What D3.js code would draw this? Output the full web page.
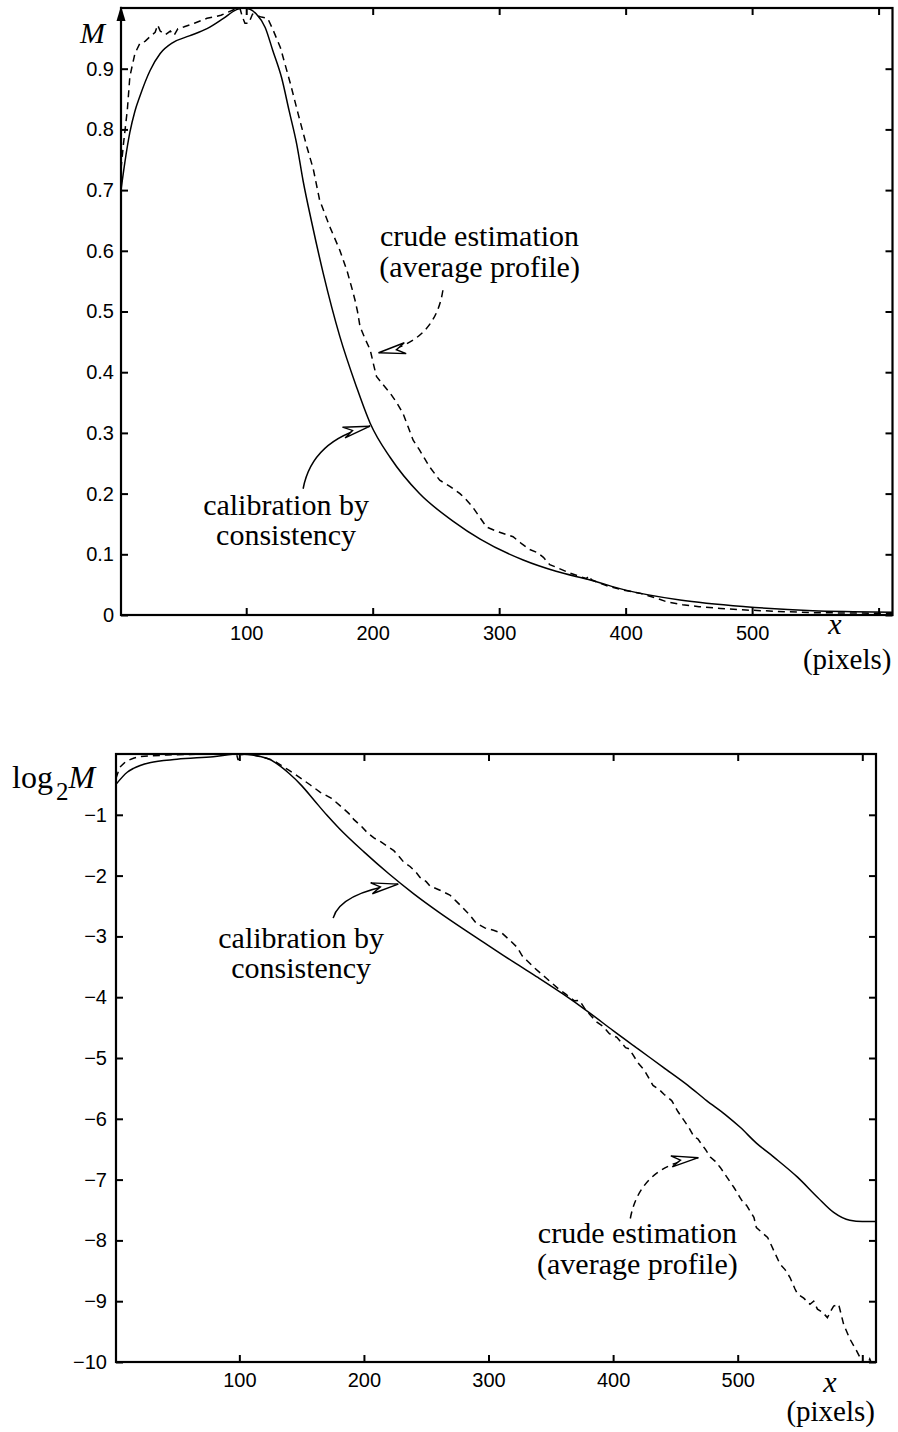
<!DOCTYPE html>
<html><head><meta charset="utf-8">
<script src="https://cdn.jsdelivr.net/npm/d3@7"></script>
<style>
html,body{margin:0;padding:0;background:#fff;}
svg{display:block;}
</style></head><body>
<svg id="c" width="898" height="1432"></svg>
<script>
// ---------------- data ----------------
const xTicks = [100, 200, 300, 400, 500, 600];
const xTickLabels = ["100", "200", "300", "400", "500", ""];

const topYTicks = [0, 0.1, 0.2, 0.3, 0.4, 0.5, 0.6, 0.7, 0.8, 0.9];
const topYTickLabels = ["0", "0.1", "0.2", "0.3", "0.4", "0.5", "0.6", "0.7", "0.8", "0.9"];

const botYTicks = [-10, -9, -8, -7, -6, -5, -4, -3, -2, -1];
const botYTickLabels = ["\u221210", "\u22129", "\u22128", "\u22127", "\u22126", "\u22125", "\u22124", "\u22123", "\u22122", "\u22121"];

// top panel: M, calibration by consistency (solid)
const topSolidX = [1, 4, 8, 12, 16, 24, 32, 42, 55, 69, 82, 92, 97, 103, 108, 115, 121, 128, 134, 140, 145, 152, 161, 174, 187, 198, 214, 237, 264, 285, 319, 345, 372, 400, 443, 495, 548, 580, 611];
const topSolidM = [0.70, 0.745, 0.795, 0.83, 0.855, 0.897, 0.925, 0.943, 0.954, 0.966, 0.983, 0.997, 1.0, 0.998, 0.99, 0.968, 0.93, 0.885, 0.83, 0.775, 0.715, 0.645, 0.562, 0.459, 0.377, 0.316, 0.259, 0.200, 0.154, 0.125, 0.0906, 0.072, 0.0577, 0.041, 0.0247, 0.0137, 0.0071, 0.0055, 0.0044];

// top panel: M, crude estimation (dashed)
const topDashX = [1, 3, 6, 8, 12, 16, 20, 24, 28, 30, 32, 36, 40, 43, 46, 51, 59, 69, 80, 90, 95, 97, 99, 102, 105, 108, 112, 117, 121, 127, 135, 141, 148, 153, 158, 166, 174, 180, 184, 186, 188, 190, 194, 198, 201, 203, 208, 214, 219, 224, 228, 232, 237, 241, 245, 253, 261, 269, 274, 279, 285, 290, 298, 305, 311, 318, 324, 330, 335, 340, 347, 356, 363, 369, 371, 373, 380, 387, 396, 406, 411, 416, 424, 432, 445, 458, 475, 495, 520, 548, 580, 611];
const topDashM = [0.735, 0.777, 0.832, 0.887, 0.925, 0.942, 0.945, 0.953, 0.960, 0.972, 0.962, 0.956, 0.962, 0.955, 0.966, 0.969, 0.975, 0.983, 0.988, 0.997, 1.0, 0.985, 0.975, 0.975, 0.990, 0.988, 0.985, 0.983, 0.965, 0.935, 0.875, 0.826, 0.771, 0.735, 0.684, 0.640, 0.601, 0.565, 0.535, 0.519, 0.500, 0.475, 0.455, 0.437, 0.410, 0.393, 0.380, 0.365, 0.350, 0.332, 0.310, 0.288, 0.272, 0.258, 0.244, 0.222, 0.212, 0.200, 0.190, 0.178, 0.160, 0.145, 0.138, 0.133, 0.129, 0.117, 0.108, 0.103, 0.095, 0.083, 0.077, 0.069, 0.064, 0.060, 0.065, 0.058, 0.052, 0.047, 0.042, 0.038, 0.036, 0.033, 0.028, 0.022, 0.017, 0.0137, 0.0108, 0.0082, 0.0060, 0.0038, 0.0032, 0.0028];

// bottom panel: log2 M, calibration by consistency (solid)
const botSolidX = [1, 10, 15, 28, 50, 79, 100, 122, 140, 150, 160, 170, 180, 200, 220, 240, 260, 280, 300, 320, 340, 360, 380, 400, 420, 440, 460, 475, 490, 502, 515, 529, 548, 564, 577, 590, 600, 611];
const botSolidL = [-0.50, -0.30, -0.236, -0.143, -0.087, -0.044, 0.0, -0.07, -0.32, -0.52, -0.76, -1.0, -1.22, -1.61, -1.97, -2.30, -2.60, -2.88, -3.15, -3.42, -3.68, -3.95, -4.24, -4.55, -4.85, -5.15, -5.45, -5.70, -5.93, -6.14, -6.40, -6.63, -6.96, -7.29, -7.54, -7.67, -7.69, -7.69];

// bottom panel: log2 M, crude estimation (dashed)
const botDashX = [1, 4, 9, 15, 20, 30, 42, 55, 68, 80, 95, 98, 99, 100, 105, 111, 120, 127, 133, 140, 148, 157, 165, 174, 182, 188, 192, 198, 203, 208, 214, 219, 224, 228, 232, 237, 242, 245, 250, 253, 261, 269, 274, 279, 285, 290, 297, 304, 311, 318, 323, 327, 331, 337, 346, 356, 362, 369, 373, 377, 382, 387, 392, 397, 403, 406, 410, 413, 416, 420, 425, 432, 437, 441, 447, 452, 457, 461, 465, 468, 470, 474, 478, 482, 486, 492, 497, 502, 505, 507, 510, 513, 515, 520, 524, 527, 529, 534, 538, 542, 546, 548, 553, 558, 561, 564, 568, 572, 575, 577, 581, 585, 590, 595, 600, 604, 606, 608, 611];
const botDashL = [-0.40, -0.22, -0.12, -0.07, -0.044, -0.03, -0.016, -0.01, 0, 0, 0, -0.02, -0.1, -0.02, 0, -0.016, -0.06, -0.1, -0.18, -0.27, -0.38, -0.51, -0.63, -0.73, -0.87, -0.98, -1.08, -1.19, -1.30, -1.38, -1.45, -1.52, -1.59, -1.68, -1.78, -1.85, -1.95, -2.03, -2.10, -2.17, -2.24, -2.32, -2.42, -2.52, -2.65, -2.78, -2.86, -2.90, -2.95, -3.08, -3.18, -3.32, -3.40, -3.52, -3.68, -3.86, -3.95, -4.06, -4.05, -4.18, -4.30, -4.41, -4.48, -4.60, -4.66, -4.73, -4.83, -4.85, -4.95, -5.08, -5.20, -5.45, -5.52, -5.60, -5.70, -5.88, -6.03, -6.15, -6.30, -6.33, -6.39, -6.50, -6.63, -6.70, -6.80, -6.98, -7.13, -7.30, -7.40, -7.42, -7.52, -7.62, -7.79, -7.88, -7.95, -8.08, -8.17, -8.39, -8.48, -8.61, -8.80, -8.88, -8.95, -9.05, -9.00, -9.13, -9.18, -9.27, -9.15, -9.08, -9.05, -9.38, -9.62, -9.80, -10.0, -10.05, -9.95, -10.05, -10.05];

// annotation texts
const calibLines = ["calibration by", "consistency"];
const crudeLines = ["crude estimation", "(average profile)"];

// ---------------- drawing ----------------
const svg = d3.select("#c");
const SERIF = "'Liberation Serif','Times New Roman',Times,serif";
const SANS = "'Liberation Sans',Arial,Helvetica,sans-serif";

function panel(cfg) {
  const x = d3.scaleLinear().domain([1, 611]).range([cfg.left, cfg.right]);
  const y = d3.scaleLinear().domain(cfg.yDomain).range([cfg.bottom, cfg.top]);
  const g = svg.append("g");
  const clipId = "clip" + cfg.id;
  svg.append("clipPath").attr("id", clipId).append("rect")
    .attr("x", cfg.left).attr("y", cfg.top - 1)
    .attr("width", cfg.right - cfg.left).attr("height", cfg.bottom - cfg.top + 1);

  const line = d3.line().x(d => x(d[0])).y(d => y(d[1]));
  const solid = cfg.solidX.map((v, i) => [v, cfg.solidY[i]]);
  const dash = cfg.dashX.map((v, i) => [v, cfg.dashY[i]]);
  const cg = g.append("g").attr("clip-path", `url(#${clipId})`);
  cg.append("path").datum(dash)
    .attr("d", line.curve(d3.curveLinear))
    .attr("fill", "none").attr("stroke", "#000").attr("stroke-width", 1.5)
    .attr("stroke-dasharray", "7,5");
  cg.append("path").datum(solid)
    .attr("d", line.curve(d3.curveMonotoneX))
    .attr("fill", "none").attr("stroke", "#000").attr("stroke-width", 1.5);

  const tk = 7;
  const ax = g.append("g");
  ax.append("g").attr("transform", `translate(0,${cfg.bottom})`)
    .call(d3.axisBottom(x).tickValues(xTicks).tickSize(-tk).tickPadding(cfg.xPad)
      .tickFormat((d, i) => xTickLabels[i]));
  ax.append("g").attr("transform", `translate(0,${cfg.top})`)
    .call(d3.axisTop(x).tickValues(xTicks).tickSize(-tk).tickFormat(""));
  ax.append("g").attr("transform", `translate(${cfg.left},0)`)
    .call(d3.axisLeft(y).tickValues(cfg.yTicks).tickSize(-tk).tickPadding(cfg.yPad)
      .tickFormat((d, i) => cfg.yLabels[i]));
  ax.append("g").attr("transform", `translate(${cfg.right},0)`)
    .call(d3.axisRight(y).tickValues(cfg.yTicks).tickSize(-tk).tickFormat(""));
  ax.selectAll(".domain").remove();
  ax.selectAll(".tick line").attr("stroke", "#000").attr("stroke-width", 2);
  ax.selectAll("text").attr("font-family", SANS).attr("font-size", 20).attr("fill", "#000");

  g.append("rect").attr("x", cfg.left).attr("y", cfg.top)
    .attr("width", cfg.right - cfg.left).attr("height", cfg.bottom - cfg.top)
    .attr("fill", "none").attr("stroke", "#000").attr("stroke-width", 2.2);

  g.append("text").attr("x", cfg.xLabX).attr("y", cfg.bottom + cfg.xLabDy)
    .attr("text-anchor", "middle").attr("font-family", SERIF).attr("font-style", "italic")
    .attr("font-size", 30).text("x");
  g.append("text").attr("x", cfg.right - 1).attr("y", cfg.bottom + cfg.pixDy)
    .attr("text-anchor", "end").attr("font-family", SERIF)
    .attr("font-size", 29).text("(pixels)");
  return {x, y, g};
}

function drawArrow(p, P0, C, P2, dashed) {
  const a = [p.x(P0[0]), p.y(P0[1])], c = [p.x(C[0]), p.y(C[1])], b = [p.x(P2[0]), p.y(P2[1])];
  const path = d3.path();
  path.moveTo(a[0], a[1]);
  path.quadraticCurveTo(c[0], c[1], b[0], b[1]);
  p.g.append("path").attr("d", path.toString()).attr("fill", "none")
    .attr("stroke", "#000").attr("stroke-width", 1.5)
    .attr("stroke-dasharray", dashed ? "7,5" : null);
  const ang = Math.atan2(b[1] - c[1], b[0] - c[0]);
  const L = 27, W = 5.5, N = 18;
  const pts = [[0, 0], [-L, -W], [-N, 0], [-L, W]];
  const rp = pts.map(([u, v]) => [b[0] + u * Math.cos(ang) - v * Math.sin(ang), b[1] + u * Math.sin(ang) + v * Math.cos(ang)]);
  p.g.append("path").attr("d", "M" + rp.map(q => q.join(",")).join("L") + "Z")
    .attr("fill", "#fff").attr("stroke", "#000").attr("stroke-width", 1.4)
    .attr("stroke-linejoin", "miter");
}

function drawText(p, cx, ys, lines) {
  lines.forEach((t, i) => {
    p.g.append("text").attr("x", p.x(cx)).attr("y", p.y(ys[i]))
      .attr("text-anchor", "middle").attr("font-family", SERIF)
      .attr("font-size", 30).attr("fill", "#000").text(t);
  });
}

// ----- top panel -----
const topP = panel({
  id: "top", left: 121, right: 892.5, top: 8, bottom: 615, yDomain: [0, 1],
  yTicks: topYTicks, yLabels: topYTickLabels, yPad: 7, xPad: 11,
  solidX: topSolidX, solidY: topSolidM, dashX: topDashX, dashY: topDashM,
  xLabX: 835, xLabDy: 19, pixDy: 54
});
topP.g.append("path")
  .attr("d", `M${topP.x(1)},${topP.y(1) - 2}L${topP.x(1) - 4.5},${topP.y(1) + 13}L${topP.x(1) + 4.5},${topP.y(1) + 13}Z`)
  .attr("fill", "#000");
topP.g.append("text").attr("x", 80).attr("y", 43).attr("font-family", SERIF)
  .attr("font-style", "italic").attr("font-size", 30).text("M");
drawText(topP, 284.5, [0.608, 0.557], crudeLines);
drawArrow(topP, [255.5, 0.535], [249.2, 0.448], [204.7, 0.432], true);
drawText(topP, 131.5, [0.165, 0.115], calibLines);
drawArrow(topP, [145.0, 0.208], [152.1, 0.288], [197.9, 0.311], false);

// ----- bottom panel -----
const botP = panel({
  id: "bot", left: 116, right: 876, top: 754, bottom: 1362, yDomain: [-10, 0],
  yTicks: botYTicks, yLabels: botYTickLabels, yPad: 9, xPad: 11,
  solidX: botSolidX, solidY: botSolidL, dashX: botDashX, dashY: botDashL,
  xLabX: 830, xLabDy: 30, pixDy: 59
});
const lg = botP.g.append("text").attr("x", 12).attr("y", 788).attr("font-family", SERIF).attr("font-size", 32);
lg.append("tspan").text("log");
lg.append("tspan").attr("font-size", 25).attr("dy", 12).attr("dx", 3).text("2");
lg.append("tspan").attr("font-style", "italic").attr("dy", -12).text("M");
drawText(botP, 149.6, [-3.19, -3.68], calibLines);
drawArrow(botP, [175.3, -2.70], [180.9, -2.29], [227.5, -2.14], false);
drawText(botP, 419.5, [-8.04, -8.56], crudeLines);
drawArrow(botP, [413.8, -7.64], [421.8, -6.77], [468.4, -6.64], true);
</script>
</body></html>
